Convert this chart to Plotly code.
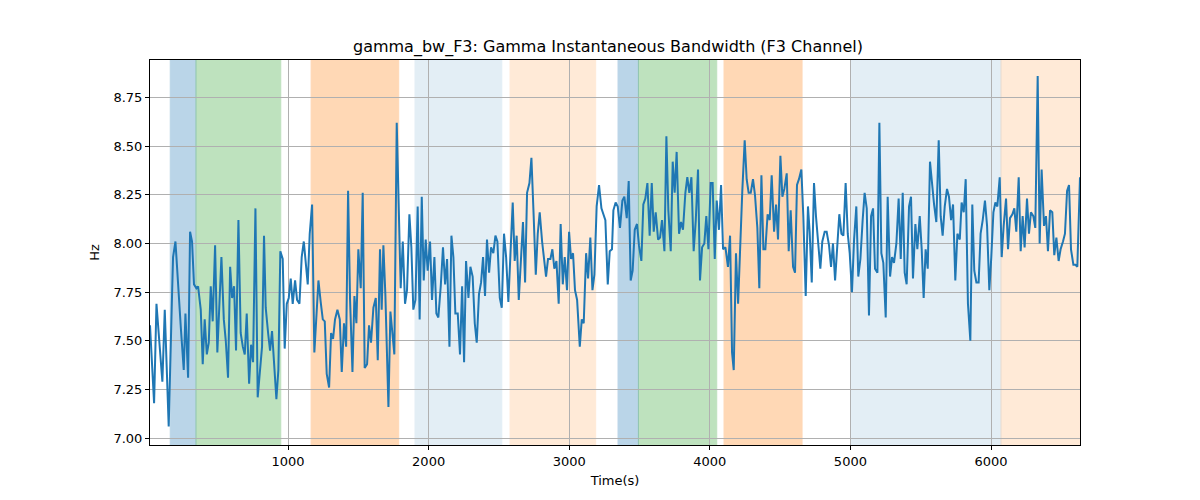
import plotly.graph_objects as go

TITLE = "gamma_bw_F3: Gamma Instantaneous Bandwidth (F3 Channel)"

time_s = [
    18, 47, 64, 83, 106, 123, 151, 175, 182, 199, 218, 237, 258, 270, 289, 303, 317, 331, 348, 360,
    379, 393, 407, 422, 436, 450, 464, 481, 497, 512, 526, 543, 557, 573, 588, 602, 616, 630, 647, 663,
    678, 692, 706, 723, 737, 751, 768, 784, 801, 815, 829, 841, 858, 872, 886, 900, 917, 931, 945, 962,
    976, 991, 1005, 1019, 1033, 1050, 1064, 1081, 1097, 1112, 1126, 1140, 1154, 1171, 1187, 1202, 1216, 1232, 1247, 1261,
    1275, 1292, 1306, 1320, 1334, 1351, 1368, 1382, 1398, 1413, 1427, 1441, 1458, 1472, 1486, 1500, 1517, 1531, 1545, 1562,
    1576, 1590, 1607, 1624, 1638, 1654, 1666, 1678, 1692, 1714, 1728, 1742, 1756, 1773, 1787, 1801, 1816, 1832, 1846, 1863,
    1877, 1891, 1906, 1922, 1936, 1951, 1965, 1979, 1993, 2010, 2024, 2041, 2055, 2069, 2086, 2102, 2117, 2131, 2148, 2162,
    2176, 2190, 2207, 2223, 2238, 2252, 2266, 2283, 2297, 2313, 2328, 2342, 2358, 2373, 2387, 2401, 2415, 2430, 2444, 2460,
    2475, 2489, 2506, 2520, 2536, 2551, 2567, 2581, 2598, 2612, 2626, 2641, 2655, 2671, 2686, 2700, 2717, 2731, 2747, 2762,
    2776, 2790, 2807, 2821, 2835, 2849, 2866, 2880, 2894, 2909, 2925, 2939, 2954, 2968, 2984, 2999, 3013, 3027, 3041, 3056,
    3075, 3089, 3103, 3120, 3134, 3150, 3165, 3179, 3195, 3212, 3229, 3243, 3257, 3274, 3288, 3304, 3314, 3330, 3345, 3361,
    3378, 3392, 3409, 3423, 3437, 3451, 3466, 3482, 3496, 3513, 3527, 3541, 3556, 3572, 3587, 3601, 3615, 3632, 3646, 3660,
    3677, 3691, 3705, 3722, 3736, 3750, 3764, 3781, 3795, 3809, 3826, 3840, 3854, 3869, 3885, 3900, 3916, 3930, 3945, 3961,
    3975, 3990, 4006, 4020, 4035, 4049, 4065, 4080, 4094, 4111, 4129, 4144, 4158, 4170, 4186, 4201, 4217, 4231, 4248, 4262,
    4276, 4291, 4307, 4321, 4338, 4352, 4367, 4381, 4395, 4411, 4426, 4440, 4457, 4471, 4485, 4502, 4516, 4530, 4547, 4561,
    4575, 4592, 4606, 4620, 4634, 4651, 4665, 4682, 4698, 4710, 4725, 4741, 4755, 4772, 4786, 4800, 4817, 4831, 4848, 4862,
    4876, 4891, 4907, 4921, 4936, 4950, 4966, 4981, 4995, 5011, 5026, 5042, 5056, 5071, 5087, 5101, 5116, 5132, 5147, 5161,
    5175, 5192, 5206, 5220, 5234, 5251, 5265, 5282, 5296, 5310, 5327, 5343, 5358, 5372, 5386, 5400, 5417, 5431, 5445, 5462,
    5476, 5493, 5507, 5521, 5535, 5550, 5566, 5580, 5595, 5611, 5628, 5642, 5656, 5671, 5687, 5701, 5716, 5730, 5746, 5761,
    5778, 5791, 5806, 5820, 5836, 5853, 5867, 5881, 5896, 5912, 5926, 5941, 5957, 5972, 5988, 6002, 6017, 6031, 6045, 6062,
    6076, 6090, 6107, 6121, 6135, 6152, 6166, 6180, 6197, 6211, 6225, 6239, 6256, 6270, 6284, 6301, 6315, 6332, 6346, 6360,
    6377, 6391, 6405, 6420, 6436, 6450, 6465, 6481, 6495, 6512, 6526, 6541, 6555, 6569, 6586, 6600, 6614, 6633,
]

bandwidth_hz = [
    7.58, 7.18, 7.69, 7.49, 7.29, 7.66, 7.06, 7.74, 7.93, 8.01, 7.76, 7.57, 7.35, 7.64, 7.31, 8.06, 8.01, 7.79, 7.77, 7.78,
    7.66, 7.38, 7.61, 7.43, 7.49, 7.78, 7.60, 7.99, 7.44, 7.74, 7.93, 7.61, 7.50, 7.31, 7.88, 7.72, 7.78, 7.45, 8.12, 7.54,
    7.47, 7.43, 7.64, 7.28, 7.48, 7.39, 8.18, 7.21, 7.35, 7.47, 8.04, 7.67, 7.54, 7.45, 7.55, 7.40, 7.20, 7.35, 7.96, 7.92,
    7.46, 7.69, 7.72, 7.82, 7.69, 7.81, 7.71, 7.69, 7.93, 8.01, 7.91, 7.79, 8.05, 8.20, 7.44, 7.67, 7.81, 7.70, 7.61, 7.60,
    7.33, 7.26, 7.54, 7.51, 7.61, 7.66, 7.61, 7.34, 7.59, 7.47, 8.27, 7.71, 7.34, 7.73, 7.59, 7.97, 7.77, 8.26, 7.36, 7.38,
    7.58, 7.49, 7.67, 7.72, 7.40, 7.97, 7.66, 7.99, 7.74, 7.16, 7.65, 7.54, 7.43, 8.62, 8.15, 7.77, 8.01, 7.69, 7.76, 8.15,
    7.98, 7.66, 7.71, 8.19, 7.61, 8.24, 7.81, 8.02, 7.86, 8.01, 7.71, 7.93, 7.64, 7.62, 7.78, 7.98, 7.79, 7.92, 7.47, 8.04,
    7.93, 7.64, 7.64, 7.43, 7.78, 7.39, 7.91, 7.72, 7.88, 7.83, 7.59, 7.49, 7.74, 7.80, 7.93, 7.73, 8.02, 7.85, 7.98, 7.95,
    8.04, 8.01, 7.72, 7.67, 8.05, 7.93, 7.70, 7.90, 8.21, 7.91, 8.04, 7.71, 7.90, 8.11, 7.80, 8.26, 8.31, 8.44, 8.14, 7.84,
    8.05, 8.16, 8.01, 7.93, 7.83, 7.92, 7.92, 7.97, 7.87, 7.91, 7.69, 8.10, 7.79, 7.93, 7.76, 8.06, 7.92, 7.95, 7.76, 7.71,
    7.47, 7.61, 7.59, 7.95, 7.82, 8.03, 7.76, 7.84, 8.19, 8.30, 8.18, 8.15, 8.12, 7.79, 7.96, 7.97, 8.17, 8.21, 8.19, 8.08,
    8.22, 8.24, 8.13, 8.32, 7.81, 7.86, 8.07, 8.10, 7.99, 7.91, 8.20, 8.23, 8.31, 8.04, 8.31, 8.06, 8.16, 8.02, 8.03, 8.12,
    7.96, 8.55, 8.17, 7.96, 8.42, 8.26, 8.47, 8.05, 8.11, 8.07, 8.26, 8.34, 8.26, 8.34, 7.96, 8.12, 8.38, 7.81, 7.98, 8.00,
    8.14, 7.97, 8.31, 8.31, 7.92, 8.22, 8.07, 8.30, 7.97, 7.98, 7.88, 8.04, 7.44, 7.35, 7.95, 7.69, 8.05, 8.27, 8.53, 8.33,
    8.26, 8.26, 8.33, 8.25, 8.08, 7.77, 8.35, 7.97, 7.97, 8.15, 8.12, 8.35, 8.06, 8.20, 8.02, 8.45, 8.24, 8.28, 8.36, 7.96,
    8.17, 7.88, 7.85, 8.30, 8.33, 8.38, 8.14, 7.73, 8.19, 8.06, 7.80, 8.31, 8.14, 7.97, 7.87, 8.01, 8.06, 8.06, 7.99, 7.88,
    8.00, 7.81, 8.00, 8.15, 8.05, 8.04, 8.31, 8.05, 7.95, 7.75, 8.02, 8.19, 7.83, 7.92, 8.12, 8.26, 8.18, 7.63, 8.14, 8.18,
    7.87, 7.85, 8.62, 7.95, 7.90, 7.62, 8.24, 7.83, 7.93, 7.90, 8.00, 8.23, 7.92, 8.26, 7.85, 7.79, 8.19, 8.24, 7.82, 8.10,
    7.97, 8.14, 7.97, 7.72, 7.97, 7.87, 8.42, 8.31, 8.20, 8.11, 8.53, 8.14, 8.04, 8.19, 8.28, 8.24, 8.12, 8.20, 7.81, 8.05,
    8.02, 8.21, 8.16, 8.33, 7.69, 7.50, 8.20, 7.86, 7.80, 7.80, 8.05, 8.12, 8.22, 8.09, 7.76, 7.93, 8.16, 8.21, 8.19, 8.34,
    7.93, 8.09, 8.23, 7.97, 8.13, 8.15, 8.18, 8.06, 8.34, 7.96, 8.14, 7.98, 8.23, 8.05, 8.16, 8.14, 8.08, 8.86, 8.00, 8.38,
    8.09, 8.14, 7.96, 8.17, 8.16, 7.94, 8.03, 7.91, 7.97, 8.01, 8.05, 8.27, 8.30, 7.97, 7.89, 7.89, 7.88, 8.34,
]

# shaded intervals: (start, end, colour, opacity)
span_start = [162, 345, 1164, 1903, 2579, 3347, 3492, 4101, 5006, 6071]
span_end = [345, 948, 1787, 2520, 3188, 3492, 4049, 4656, 6071, 6633]
span_color = ["#1f77b4", "#2ca02c", "#ff7f0e", "#1f77b4", "#ff7f0e",
              "#1f77b4", "#2ca02c", "#ff7f0e", "#1f77b4", "#ff7f0e"]
span_alpha = [0.3, 0.3, 0.3, 0.12, 0.16, 0.3, 0.3, 0.3, 0.12, 0.16]

fig = go.Figure()

for x0, x1, c, a in zip(span_start, span_end, span_color, span_alpha):
    fig.add_vrect(x0=x0, x1=x1, fillcolor=c, opacity=a, layer="below",
                  line={"color": c, "width": 1})

fig.add_trace(go.Scatter(
    x=time_s, y=bandwidth_hz, mode="lines",
    line={"color": "#1f77b4", "width": 2}, showlegend=False,
))

axis_style = dict(
    showgrid=True, gridcolor="#b0b0b0", gridwidth=0.8,
    showline=True, linecolor="black", linewidth=1, mirror=True,
    ticks="outside", ticklen=4, tickcolor="black", zeroline=False,
    tickfont={"size": 13, "color": "black"},
)

fig.update_layout(
    width=1200, height=500,
    template="simple_white",
    paper_bgcolor="white", plot_bgcolor="white",
    font={"family": "DejaVu Sans", "size": 13, "color": "black"},
    margin={"l": 142, "r": 128, "t": 52, "b": 63},
    title={"text": TITLE, "x": 0.5, "xanchor": "center", "y": 0.924,
           "yanchor": "middle", "font": {"size": 16}},
    xaxis=dict(axis_style, range=[18, 6633], tickvals=[1000, 2000, 3000, 4000, 5000, 6000],
               title={"text": "Time(s)", "font": {"size": 13}, "standoff": 8}),
    yaxis=dict(axis_style, range=[6.965, 8.942], tickformat=".2f", dtick=0.25, tick0=7.0,
               title={"text": "Hz", "font": {"size": 13}, "standoff": 10}),
)

fig.write_html("out.html")
